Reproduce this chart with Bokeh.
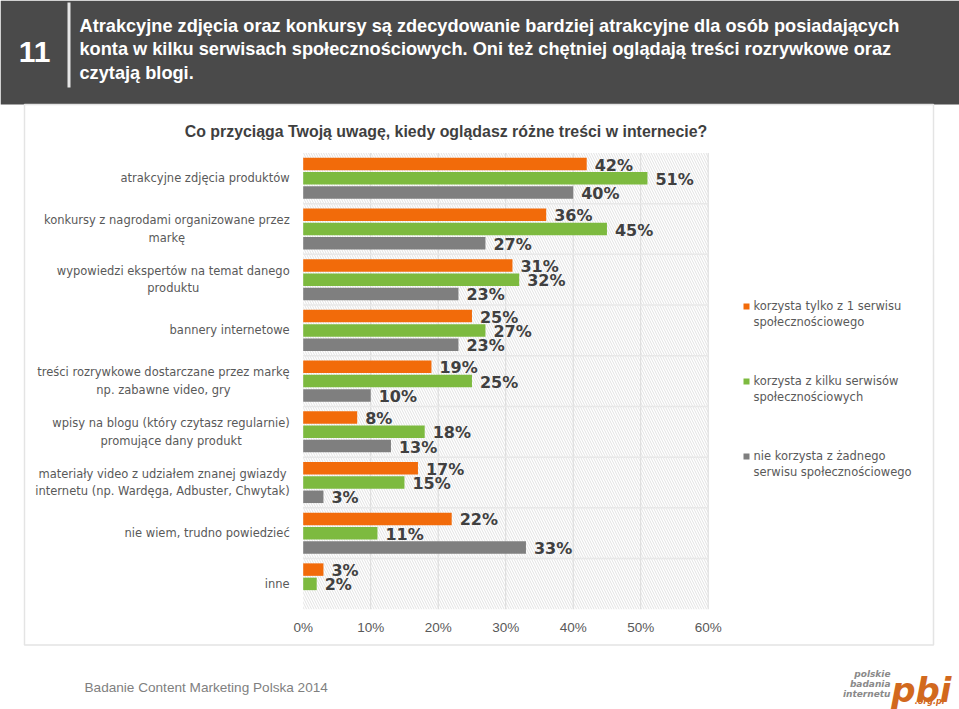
from bokeh.plotting import figure
from bokeh.models import Range1d, ColumnDataSource
from bokeh.core.properties import value
from bokeh.embed import file_html
from bokeh.resources import INLINE

# ---------------- data ----------------
categories = [
    "atrakcyjne zdjęcia produktów",
    "konkursy z nagrodami organizowane przez\nmarkę",
    "wypowiedzi ekspertów na temat danego\nproduktu",
    "bannery internetowe",
    "treści rozrywkowe dostarczane przez markę\nnp. zabawne video, gry",
    "wpisy na blogu (który czytasz regularnie)\npromujące dany produkt",
    "materiały video z udziałem znanej gwiazdy\ninternetu (np. Wardęga, Adbuster, Chwytak)",
    "nie wiem, trudno powiedzieć",
    "inne",
]
series_names = [
    "korzysta tylko z 1 serwisu\nspołecznościowego",
    "korzysta z kilku serwisów\nspołecznościowych",
    "nie korzysta z żadnego\nserwisu społecznościowego",
]
one_service = [42, 36, 31, 25, 19, 8, 17, 22, 3]
several_services = [51, 45, 32, 27, 25, 18, 15, 11, 2]
no_service = [40, 27, 23, 23, 10, 13, 3, 33, None]
x_ticks = [0, 10, 20, 30, 40, 50, 60]
tick_labels = ["0%", "10%", "20%", "30%", "40%", "50%", "60%"]

header_number = "11"
header_lines = [
    "Atrakcyjne zdjęcia oraz konkursy są zdecydowanie bardziej atrakcyjne dla osób posiadających",
    "konta w kilku serwisach społecznościowych. Oni też chętniej oglądają treści rozrywkowe oraz",
    "czytają blogi.",
]
chart_title = "Co przyciąga Twoją uwagę, kiedy oglądasz różne treści w internecie?"
footer_text = "Badanie Content Marketing Polska 2014"

# ---------------- style ----------------
COLORS = ["#F26B0A", "#7DBA3F", "#7F7F7F"]
HEAD = "Liberation Sans"
SANS = "DejaVu Sans"

W, H = 959, 709

p = figure(width=W, height=H, x_range=Range1d(0, W), y_range=Range1d(H, 0),
           min_border=0, x_axis_location=None, y_axis_location=None,
           toolbar_location=None, output_backend="svg", outline_line_color=None)
p.grid.visible = False
p.background_fill_color = "white"
p.border_fill_color = "white"

# percentage / group scales for the bar chart
X0, X60 = 302.7, 707.7
kx = (X60 - X0) / 60.0
p.extra_x_ranges = {"pct": Range1d(-X0 / kx, (W - X0) / kx)}
G0, GP = 177.8, 50.7
p.extra_y_ranges = {"grp": Range1d((H - G0) / GP, -G0 / GP)}
R = dict(x_range_name="pct", y_range_name="grp")

n = len(categories)

# header band
p.quad(left=0, right=W, top=0, bottom=104, fill_color="#4A4A4A", line_color=None)
p.text(x=[34], y=[51], text=[header_number], text_color="white",
       text_font=value(HEAD), text_font_style="bold", text_font_size="30px",
       text_align="center", text_baseline="middle")
p.segment(x0=68.5, y0=2, x1=68.5, y1=87, line_color="#E6E6E6", line_width=3)
p.text(x=[79] * 3, y=[25, 48.5, 72], text=header_lines, text_color="white",
       text_font=value(HEAD), text_font_style="bold", text_font_size="18.2px",
       text_align="left", text_baseline="middle")

# panel
p.quad(left=24, right=933, top=104, bottom=644.5, fill_color=None,
       line_color="#E4E4E4", line_width=1.5)

# chart title
p.text(x=[445.5], y=[131], text=[chart_title], text_color="#3F3F3F",
       text_font=value(HEAD), text_font_style="bold", text_font_size="15.9px",
       text_align="center", text_baseline="middle")

# plot area with hatch
p.quad(left=0, right=60, top=-0.5, bottom=n - 0.5, fill_color="white", line_color=None,
       hatch_pattern="\\", hatch_color="#E2E2E2", hatch_scale=5, hatch_weight=1, **R)
p.segment(x0=x_ticks[1:], x1=x_ticks[1:], y0=-0.5, y1=n - 0.5, line_color="#DADADA",
          line_width=1, **R)
bounds = [i + 0.5 for i in range(n - 1)]
p.segment(x0=0, x1=60, y0=bounds, y1=bounds, line_color="#E8E8E8", line_width=1.5, **R)

# bars and labels
offsets = [-0.282, 0.0, 0.282]
for vals, color, off in zip([one_service, several_services, no_service], COLORS, offsets):
    ys = [i + off for i, v in enumerate(vals) if v is not None]
    vs = [v for v in vals if v is not None]
    src = ColumnDataSource(dict(y=ys, v=vs, lab=[f"{v}%" for v in vs]))
    p.hbar(y="y", left=0, right="v", height=0.2465, fill_color=color, line_color=None,
           source=src, **R)
    p.text(x="v", y="y", text="lab", x_offset=8, y_offset=1, text_color="#404040",
           text_font=value(SANS), text_font_style="bold", text_font_size="16px",
           text_align="left", text_baseline="middle", source=src, **R)

# category labels
p.text(x=[0] * n, y=list(range(n)), text=categories, x_offset=-13.5,
       anchor=value("center_right"), text_align="center", text_baseline="middle",
       text_color="#595959", text_font=value(SANS), text_font_size="11.5px",
       text_line_height=1.25, **R)

# x tick labels
tick_src = ColumnDataSource(dict(x=x_ticks, lab=tick_labels))
p.text(x="x", y=(626.7 - G0) / GP, text="lab", source=tick_src, text_color="#595959",
       text_font=value(HEAD), text_font_size="13.5px", text_align="center",
       text_baseline="middle", **R)

# legend
leg_y = [306, 381, 456]
p.scatter(x=[746] * 3, y=leg_y, marker="square", size=6, fill_color=COLORS, line_color=None)
p.text(x=[753] * 3, y=[y + 7.5 for y in leg_y], text=series_names, text_color="#595959",
       text_font=value(SANS), text_font_size="11.5px", text_align="left",
       text_baseline="middle", text_line_height=1.12)

# footer
p.text(x=[84], y=[687], text=[footer_text], text_color="#7F7F7F",
       text_font=value(HEAD), text_font_size="13.6px", text_align="left",
       text_baseline="middle")

# logo
p.text(x=[890] * 3, y=[673, 683, 693], text=["polskie", "badania", "internetu"],
       text_color="#8A8A8A", text_font=value(SANS), text_font_style="bold italic",
       text_font_size="9px", text_align="right", text_baseline="middle")
p.text(x=[951], y=[689], text=["pbi"], text_color="#D2691E", text_font=value(SANS),
       text_font_style="bold italic", text_font_size="34px", text_align="right",
       text_baseline="alphabetic")
p.text(x=[944], y=[701], text=[".org.pl"], text_color="#D2691E", text_font=value(SANS),
       text_font_style="bold italic", text_font_size="8px", text_align="right",
       text_baseline="middle")

open("out.html", "w").write(file_html(p, INLINE))
